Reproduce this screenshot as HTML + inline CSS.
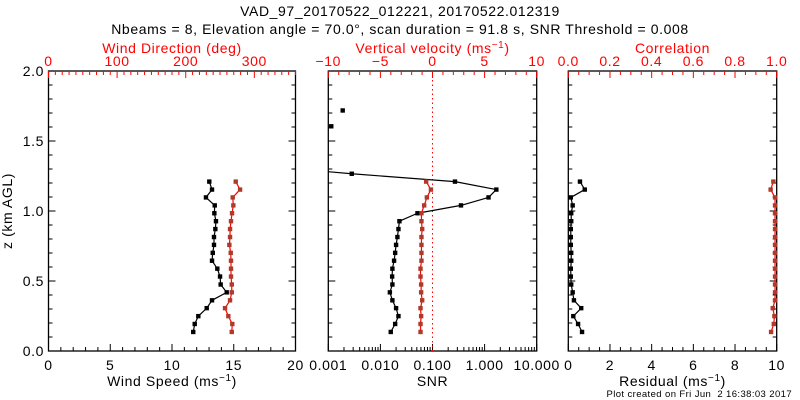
<!DOCTYPE html>
<html><head><meta charset="utf-8"><style>
body{margin:0;background:#fff;}
svg{display:block;font-family:"Liberation Sans",sans-serif;letter-spacing:0.6px;}
</style></head><body>
<svg id="c" width="800" height="400"></svg>
<script>
const heights=[0.136,0.193,0.249,0.306,0.362,0.419,0.475,0.532,0.588,0.645,0.701,0.758,0.814,0.871,0.927,0.984,1.040,1.097,1.153,1.210,1.266,1.323,1.379,1.436,1.492,1.549,1.605,1.662,1.718];
const windSpeed=[11.72,11.84,12.13,12.81,13.24,14.43,13.94,13.89,13.67,13.24,13.30,13.40,13.40,13.51,13.56,13.43,13.46,12.75,13.24,13.02];
const windDir=[267.1,267.9,262.1,257.3,264.6,267.1,267.1,266.0,266.0,266.0,265.6,263.6,264.6,264.6,266.0,267.5,269.4,268.5,279.2,272.9];
const snr=[0.0158,0.0192,0.0222,0.0200,0.0170,0.0152,0.0170,0.0168,0.0170,0.0183,0.0192,0.0200,0.0212,0.0222,0.0232,0.0515,0.352,1.19,1.68,0.270,0.00282,0.00005,null,null,null,null,0.00114,null,0.00189];
const wVel=[-1.15,-1.15,-1.09,-1.15,-0.99,-1.09,-1.09,-1.15,-1.15,-1.06,-1.06,-1.06,-1.06,-0.99,-1.06,-1.06,-0.80,-0.54,-0.15,-0.61];
const residual=[0.66,0.47,0.24,0.62,0.27,0.21,0.14,0.12,0.12,0.14,0.14,0.12,0.12,0.12,0.14,0.14,0.21,0.12,0.79,0.56];
const corr=[0.973,0.986,0.989,0.981,0.992,0.992,0.992,0.992,0.992,0.992,0.992,0.992,0.992,0.992,0.992,0.992,0.992,0.992,0.971,0.984];

const NS="http://www.w3.org/2000/svg";
const svg=document.getElementById('c');
function mk(tag,attrs,parent){const e=document.createElementNS(NS,tag);for(const k in attrs)e.setAttribute(k,attrs[k]);(parent||svg).appendChild(e);return e;}
function txt(x,y,s,attrs){const t=mk('text',Object.assign({x:x,y:y,'font-size':14,'text-anchor':'middle'},attrs||{}));t.textContent=s;return t;}
function titleWithSup(x,y,pre,post,color,name){const t=mk('text',{x:x,y:y,'font-size':14,'text-anchor':'middle',fill:color});
 
 const a=mk('tspan',{},t);a.textContent=pre+'(ms';const b=mk('tspan',{dy:-5,'font-size':10},t);b.textContent='−1';const c=mk('tspan',{dy:5},t);c.textContent=')'+post;return t;}

const TOP=71,BOT=351;
const yS=h=>BOT-(h/2)*(BOT-TOP);
const RED='#ff0000',MRK='#b03a2a';

let t=txt(400,16,'VAD_97_20170522_012221, 20170522.012319');

t=txt(400,34,'Nbeams = 8, Elevation angle = 70.0°, scan duration = 91.8 s, SNR Threshold = 0.008');


function panel(x0,x1,name){
 const g=mk('g',{});
 mk('rect',{x:x0,y:TOP,width:x1-x0,height:BOT-TOP,fill:'none',stroke:'#000','stroke-width':1.3},g);
 for(let i=0;i<=20;i++){const y=yS(i*0.1);const L=i%5==0?7:4;
  mk('line',{x1:x0,x2:x0+L,y1:y,y2:y,stroke:'#000'},g);mk('line',{x1:x1,x2:x1-L,y1:y,y2:y,stroke:'#000'},g);}
 return g;}
function xTicks(g,x0,x1,min,max,minor,major,top,color,labels,fmt){
 const n=Math.round((max-min)/minor);
 for(let i=0;i<=n;i++){const v=min+i*minor;const x=x0+(v-min)/(max-min)*(x1-x0);
  const isM=Math.abs(v/major-Math.round(v/major))<1e-6;const L=isM?7:4;
  const y=top?TOP:BOT;mk('line',{x1:x,x2:x,y1:y,y2:top?y+L:y-L,stroke:color},g);
  if(isM&&labels){const l=txt(x,top?TOP-5:BOT+19,fmt(v),{fill:color});}}}
let x0c,x1c;
function series(g,xs,hs,xf,lc,mc,name){
 const sg=mk('g',{},g);
 let prev=null;
 for(let i=0;i<xs.length;i++){if(xs[i]==null){prev=null;continue;}
  const p=[xf(xs[i]),yS(hs[i])];
  if(prev)mk('line',{x1:prev[0],y1:prev[1],x2:p[0],y2:p[1],stroke:lc,'stroke-width':1.2},sg);
  prev=p;}
 for(let i=0;i<xs.length;i++){if(xs[i]==null)continue;const x=xf(xs[i]),y=yS(hs[i]);
  if(x<x0c||x>x1c)continue;
  mk('rect',{x:x-2.2,y:y-2.2,width:4.4,height:4.4,fill:mc},sg);}
 return sg;}

const defs=mk('defs',{});
function clip(id,x0,x1){const cp=mk('clipPath',{id:id},defs);mk('rect',{x:x0,y:TOP,width:x1-x0,height:BOT-TOP},cp);}

// Left panel
const L0=48.5,L1=295.5;
let g=panel(L0,L1,'wind-panel');
xTicks(g,L0,L1,0,20,1,5,false,'#000',true,v=>String(v));
xTicks(g,L0,L1,0,360,10,100,true,RED,true,v=>String(v));
for(let i=0;i<=4;i++){const l=txt(44,yS(i*0.5)+5,(i*0.5).toFixed(1),{'text-anchor':'end'});}
t=txt(12,211,'z (km AGL)',{transform:'rotate(-90 12 211)'});
t=txt(172,53,'Wind Direction (deg)',{fill:RED});
titleWithSup(172,386,'Wind Speed ','','#000','wind-speed-title');
x0c=L0;x1c=L1;
series(g,windDir,heights,v=>L0+v/360*(L1-L0),RED,MRK,'wind-direction-series');
series(g,windSpeed,heights,v=>L0+v/20*(L1-L0),'#000','#000','wind-speed-series');

// Middle panel
const M0=328.3,M1=536.7;
clip('cm',M0,M1);
g=panel(M0,M1,'snr-velocity-panel');
const lx=v=>M0+(Math.log10(v)+3)/4*(M1-M0);
for(let d=-3;d<1;d++){for(let k=1;k<10;k++){const v=k*Math.pow(10,d);const x=lx(v);const L=k==1?7:4;mk('line',{x1:x,x2:x,y1:BOT,y2:BOT-L,stroke:'#000'},g);}}
mk('line',{x1:M1,x2:M1,y1:BOT,y2:BOT-7,stroke:'#000'},g);
['0.001','0.010','0.100','1.000','10.000'].forEach((s,i)=>{const l=txt(M0+i*(M1-M0)/4,BOT+19,s);});
xTicks(g,M0,M1,-10,10,1,5,true,RED,true,v=>v<0?'−'+(-v):String(v));
titleWithSup(432.5,53,'Vertical velocity ','',RED,'vertical-velocity-title');
t=txt(432.5,386,'SNR');
const vx=v=>M0+(v+10)/20*(M1-M0);
mk('line',{x1:vx(0),x2:vx(0),y1:TOP,y2:BOT,stroke:RED,'stroke-dasharray':'1.5,3'},g);
x0c=M0;x1c=M1;
const cg=mk('g',{'clip-path':'url(#cm)'},g);
series(cg,snr,heights,lx,'#000','#000','snr-series');
series(cg,wVel,heights,vx,RED,MRK,'vertical-velocity-series');

// Right panel
const R0=568.3,R1=776.7;
g=panel(R0,R1,'residual-correlation-panel');
xTicks(g,R0,R1,0,10,0.5,2,false,'#000',true,v=>String(Math.round(v)));
xTicks(g,R0,R1,0,1,0.05,0.2,true,RED,true,v=>v.toFixed(1));
t=txt(672.5,53,'Correlation',{fill:RED});
titleWithSup(672.5,386,'Residual ','','#000','residual-title');
x0c=R0;x1c=R1;
series(g,corr,heights,v=>R0+v*(R1-R0),RED,MRK,'correlation-series');
series(g,residual,heights,v=>R0+v/10*(R1-R0),'#000','#000','residual-series');

t=txt(792,397,'Plot created on Fri Jun  2 16:38:03 2017',{'text-anchor':'end','font-size':9.5});
t.style.whiteSpace='pre';t.style.letterSpacing='0.4px';

</script>
</body></html>
